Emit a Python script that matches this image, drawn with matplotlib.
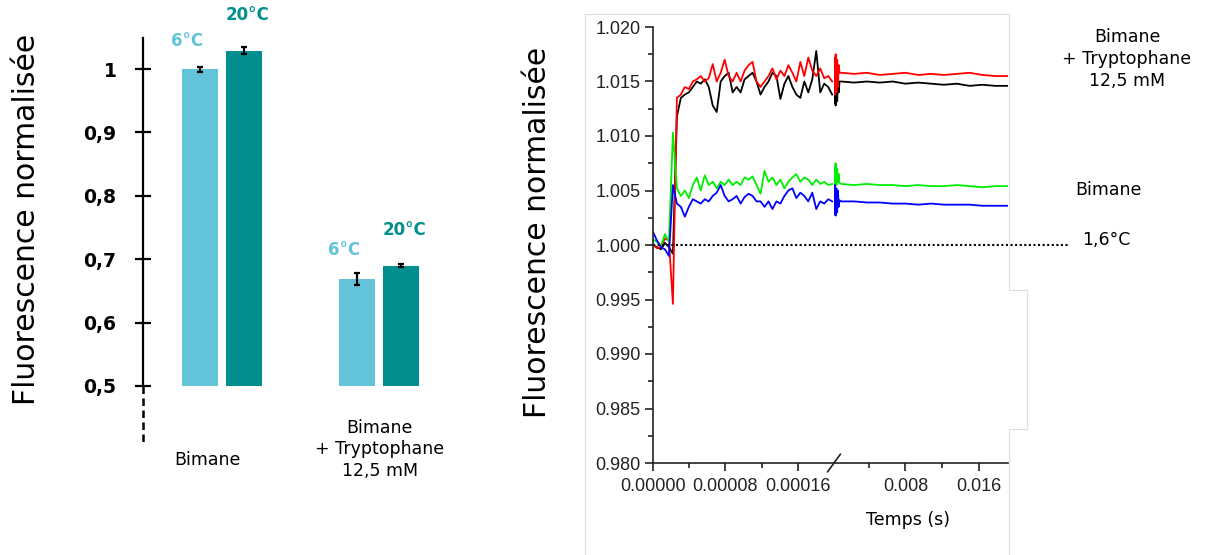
import numpy as np
import matplotlib
matplotlib.use("Agg")
from matplotlib import pyplot as plt
from matplotlib.lines import Line2D
from matplotlib import transforms

### Donnees - barres ###
groupes = ["Bimane", "Bimane\n+ Tryptophane\n12,5 mM"]
temperatures = ["6°C", "20°C"]
fluo_6C = [1.000, 0.669]
fluo_20C = [1.029, 0.690]
err_6C = [0.004, 0.009]
err_20C = [0.006, 0.003]
yticks_barres = [0.5, 0.6, 0.7, 0.8, 0.9, 1.0]
yticklabels_barres = ["0,5", "0,6", "0,7", "0,8", "0,9", "1"]

### Donnees - cinetique (partie rapide, 0 a 0.0002 s) ###
rouge_rapide = [1.0000, 0.9997, 0.9998, 1.0006, 1.0004, 0.9946, 1.0135, 1.0138, 1.0145, 1.0143,
                1.0150, 1.0152, 1.0155, 1.0150, 1.0153, 1.0166, 1.0150, 1.0158, 1.0170, 1.0155,
                1.0150, 1.0158, 1.0150, 1.0160, 1.0165, 1.0168, 1.0150, 1.0145, 1.0150, 1.0155,
                1.0162, 1.0152, 1.0160, 1.0155, 1.0165, 1.0158, 1.0150, 1.0168, 1.0155, 1.0172,
                1.0160, 1.0155, 1.0162, 1.0153, 1.0155, 1.0150]
noir_rapide = [1.0000, 0.9998, 0.9996, 1.0002, 0.9998, 0.9992, 1.0118, 1.0135, 1.0138, 1.0140,
               1.0145, 1.0150, 1.0148, 1.0152, 1.0145, 1.0128, 1.0122, 1.0150, 1.0155, 1.0158,
               1.0140, 1.0145, 1.0140, 1.0152, 1.0155, 1.0158, 1.0150, 1.0138, 1.0145, 1.0150,
               1.0158, 1.0155, 1.0134, 1.0148, 1.0155, 1.0145, 1.0138, 1.0135, 1.0150, 1.0140,
               1.0152, 1.0178, 1.0140, 1.0148, 1.0145, 1.0138]
vert_rapide = [1.0005, 1.0003, 0.9999, 1.0010, 1.0003, 1.0103, 1.0052, 1.0045, 1.0050, 1.0043,
               1.0055, 1.0062, 1.0050, 1.0064, 1.0055, 1.0058, 1.0052, 1.0058, 1.0055, 1.0060,
               1.0055, 1.0058, 1.0055, 1.0062, 1.0060, 1.0063, 1.0055, 1.0047, 1.0068, 1.0058,
               1.0062, 1.0055, 1.0060, 1.0052, 1.0058, 1.0062, 1.0065, 1.0058, 1.0062, 1.0060,
               1.0055, 1.0060, 1.0056, 1.0058, 1.0055, 1.0056]
bleu_rapide = [1.0012, 1.0004, 0.9998, 0.9996, 0.9990, 1.0055, 1.0038, 1.0035, 1.0026, 1.0035,
               1.0042, 1.0040, 1.0038, 1.0042, 1.0040, 1.0045, 1.0048, 1.0055, 1.0045, 1.0040,
               1.0042, 1.0045, 1.0038, 1.0044, 1.0047, 1.0045, 1.0040, 1.0040, 1.0035, 1.0040,
               1.0033, 1.0040, 1.0038, 1.0045, 1.0050, 1.0052, 1.0043, 1.0048, 1.0045, 1.0040,
               1.0048, 1.0033, 1.0040, 1.0038, 1.0042, 1.0040]

### Transition (bouffee de bruit au changement d'echelle) ###
rouge_trans = [1.0172, 1.0138, 1.0175, 1.0140, 1.0170, 1.0145, 1.0165, 1.0158]
noir_trans = [1.0130, 1.0158, 1.0128, 1.0155, 1.0132, 1.0152, 1.0140, 1.0150]
vert_trans = [1.0072, 1.0052, 1.0075, 1.0055, 1.0070, 1.0058, 1.0065, 1.0057]
bleu_trans = [1.0028, 1.0055, 1.0027, 1.0052, 1.0030, 1.0050, 1.0035, 1.0041]

### Partie lente (jusqu'a ~0.019 s) ###
rouge_lent = [1.0158, 1.0157, 1.0158, 1.0156, 1.0157, 1.0158, 1.0156, 1.0157, 1.0156, 1.0157,
              1.0158, 1.0156, 1.0155, 1.0155]
noir_lent = [1.0150, 1.0149, 1.0150, 1.0149, 1.0150, 1.0148, 1.0149, 1.0148, 1.0147, 1.0148,
             1.0146, 1.0147, 1.0146, 1.0146]
vert_lent = [1.0056, 1.0055, 1.0056, 1.0055, 1.0055, 1.0054, 1.0055, 1.0054, 1.0054, 1.0055,
             1.0054, 1.0053, 1.0054, 1.0054]
bleu_lent = [1.0040, 1.0040, 1.0039, 1.0039, 1.0038, 1.0038, 1.0037, 1.0038, 1.0037, 1.0037,
             1.0037, 1.0036, 1.0036, 1.0036]

t_rapide = np.linspace(0, 0.000198, len(rouge_rapide))
t_trans = np.linspace(0.00021, 0.0008, len(rouge_trans))
t_lent = np.linspace(0.001, 0.0192, len(rouge_lent))

W, H = 1205.0, 555.0
def fx(px):
    return px / W
def fy(py):
    return 1 - py / H

cyan = "#62c3d9"
teal = "#008e8e"
gris = "#222222"

fig = plt.figure(figsize=(12.05, 5.55), dpi=100)

###Graphique en barres###
ax = fig.add_axes([fx(143), fy(386), fx(470) - fx(143), fy(38) - fy(386)])
x = np.arange(len(groupes))
w = 0.229
d = 0.142
ax.bar(x - d, [v - 0.5 for v in fluo_6C], w, bottom=0.5, color=cyan)
ax.bar(x + d, [v - 0.5 for v in fluo_20C], w, bottom=0.5, color=teal)
ax.errorbar(x - d, fluo_6C, yerr=err_6C, fmt='none', ecolor='k', elinewidth=1.6, capsize=2.5, capthick=1.6)
ax.errorbar(x + d, fluo_20C, yerr=err_20C, fmt='none', ecolor='k', elinewidth=1.6, capsize=2.5, capthick=1.6)
ax.set_xlim(-0.503, 1.58)
ax.set_ylim(0.5, 1.049)
for s in ['top', 'right', 'bottom']:
    ax.spines[s].set_visible(False)
ax.spines['left'].set_linewidth(1.6)
ax.set_xticks([])
ax.set_yticks(yticks_barres)
ax.set_yticklabels(yticklabels_barres, fontsize=13.5, fontweight='bold')
ax.tick_params(axis='y', direction='inout', length=12, width=1.6, pad=13)
# pointilles sous l'axe
ax.plot([-0.503, -0.503], [0.5, 0.41], color='k', lw=1.8, ls=(0, (3, 1.8)), clip_on=False)

# temperatures au-dessus des barres
for i in range(len(groupes)):
    ax.text(x[i] - d - 0.083, fluo_6C[i] + 0.045, temperatures[0], color=cyan, fontsize=12,
            fontweight='bold', ha='center', va='center')
    ax.text(x[i] + d + 0.02, fluo_20C[i] + 0.056, temperatures[1], color=teal, fontsize=12,
            fontweight='bold', ha='center', va='center')
ax.text(x[0] - 0.09, 0.383, groupes[0], fontsize=12.5, ha='center', va='center', clip_on=False)
ax.text(x[1] + 0.005, 0.400, groupes[1], fontsize=12.5, ha='center', va='center',
        linespacing=1.25, clip_on=False)

fig.text(fx(27), fy(219), "Fluorescence normalisée", rotation=90, fontsize=21.5,
         ha='center', va='center')

###Cinetique, axe casse###
axA = fig.add_axes([fx(653), fy(463), fx(834) - fx(653), fy(27) - fy(463)])
axB = fig.add_axes([fx(834), fy(463), fx(1008) - fx(834), fy(27) - fy(463)], sharey=axA)

series = [(noir_rapide, noir_trans, noir_lent, 'k'),
          (rouge_rapide, rouge_trans, rouge_lent, '#ff0000'),
          (vert_rapide, vert_trans, vert_lent, '#00ee00'),
          (bleu_rapide, bleu_trans, bleu_lent, '#0000ff')]
for rap, tr, le, c in series:
    axA.plot(t_rapide, rap, color=c, lw=1.3)
    axB.plot(np.concatenate([[t_rapide[-1]], t_trans, t_lent]),
             [rap[-1]] + tr + le, color=c, lw=1.3)

axA.set_xlim(0, 0.0002)
axB.set_xlim(0.0002, 0.0192)
axA.set_ylim(0.98, 1.02)

tickfont = dict(family='Liberation Sans', size=13)
axA.set_yticks(np.arange(0.98, 1.0201, 0.005))
axA.set_yticklabels(["%.3f" % v for v in np.arange(0.98, 1.0201, 0.005)], **tickfont)
axA.set_yticks(np.arange(0.9825, 1.02, 0.005), minor=True)
axA.set_xticks([0, 0.00008, 0.00016])
axA.set_xticklabels(["0.00000", "0.00008", "0.00016"], **tickfont)
axA.set_xticks([0.00004, 0.00012], minor=True)
axB.set_xticks([0.008, 0.016])
axB.set_xticklabels(["0.008", "0.016"], **tickfont)
axB.set_xticks([0.004, 0.012], minor=True)

for a in (axA, axB):
    a.spines['top'].set_visible(False)
    a.spines['right'].set_visible(False)
    a.spines['bottom'].set_linewidth(1.2)
    a.spines['bottom'].set_color(gris)
    a.spines['left'].set_linewidth(1.2)
    a.spines['left'].set_color(gris)
    a.patch.set_visible(False)
    a.tick_params(which='major', length=6, width=1.2, color=gris, labelcolor=gris, pad=3)
    a.tick_params(which='minor', length=3.5, width=1.2, color=gris)
    a.tick_params(axis='x', pad=5)
axB.spines['left'].set_visible(False)
axB.tick_params(axis='y', which='both', left=False, labelleft=False)

# marque de coupure
axA.plot([0.000193, 0.000207], [0.9792, 0.9808], color=gris, lw=1.2, clip_on=False)

# ligne de reference a 1.000
trans = transforms.blended_transform_factory(fig.transFigure, axA.transData)
axA.plot([fx(653), fx(1069)], [1.0, 1.0], color='k', lw=1.5, ls=(0, (1, 1.2)),
         transform=trans, clip_on=False)
fig.text(fx(1082), fy(240), "1,6°C", fontsize=12.5, ha='left', va='center')
fig.text(fx(1108), fy(190), "Bimane", fontsize=12.5, ha='center', va='center')
fig.text(fx(1127), fy(59), "Bimane\n+ Tryptophane\n12,5 mM", fontsize=12.5, ha='center',
         va='center', linespacing=1.25)
fig.text(fx(908), fy(520), "Temps (s)", fontsize=12.5, ha='center', va='center')
fig.text(fx(537), fy(232), "Fluorescence normalisée", rotation=90, fontsize=21.5,
         ha='center', va='center')

# cadre gris clair autour du graphique de droite
cadre_x = [585, 585, 1009, 1009, 1027, 1027, 1009, 1009]
cadre_y = [555, 14, 14, 290, 290, 429, 429, 555]
fig.add_artist(Line2D([fx(v) for v in cadre_x], [fy(v) for v in cadre_y],
                      color='#dddddd', lw=0.8))

plt.savefig("out.png", dpi=100)
